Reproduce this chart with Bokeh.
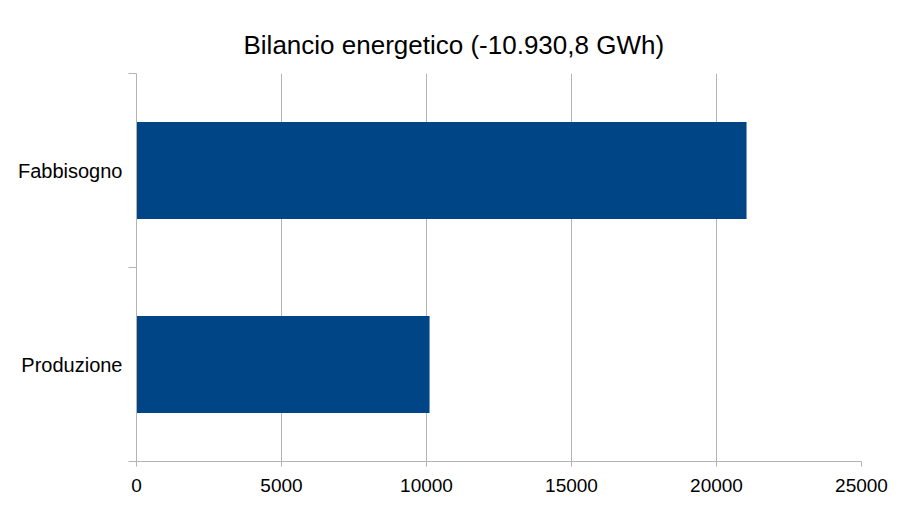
from bokeh.plotting import figure
from bokeh.resources import INLINE
from bokeh.embed import file_html
from bokeh.models import ColumnDataSource, Range1d, FixedTicker, Title

categories = ["Produzione", "Fabbisogno"]
values = [10105.0, 21035.8]
x_ticks = [0, 5000, 10000, 15000, 20000, 25000]

BLUE = "#004586"
GRAY = "#b3b3b3"
FONT = "Liberation Sans"

pos = [i + 0.5 for i in range(len(categories))]
source = ColumnDataSource(data=dict(y=pos, value=values, name=categories))

p = figure(width=891, height=494, output_backend="svg", toolbar_location=None,
           x_range=Range1d(0, 25000), y_range=Range1d(0, len(categories)),
           min_border_left=136, min_border_right=30, min_border_top=73,
           min_border_bottom=31)
p.outline_line_color = None
p.background_fill_color = "white"

p.hbar(y="y", right="value", left=0, height=0.5, source=source,
       fill_color=BLUE, line_color=None)

p.title = Title(text="Bilancio energetico (-10.930,8 GWh)", align="left",
                offset=107, text_font=FONT, text_font_size="26px",
                text_font_style="normal", text_color="black", standoff=28)

# x axis
p.xaxis.ticker = FixedTicker(ticks=x_ticks)
p.xaxis.axis_line_color = GRAY
p.xaxis.major_tick_line_color = GRAY
p.xaxis.major_tick_in = 0
p.xaxis.major_tick_out = 5
p.xaxis.minor_tick_line_color = None
p.xaxis.major_label_text_font = FONT
p.xaxis.major_label_text_font_size = "19px"
p.xaxis.major_label_text_color = "black"
p.xaxis.major_label_standoff = 12

# y axis: labels at category centres, ticks at category boundaries
p.yaxis.ticker = FixedTicker(ticks=pos, minor_ticks=list(range(len(categories) + 1)))
p.yaxis.major_label_overrides = {pv: c for pv, c in zip(pos, categories)}
p.yaxis.axis_line_color = GRAY
p.yaxis.major_tick_line_color = None
p.yaxis.major_tick_in = 0
p.yaxis.major_tick_out = 0
p.yaxis.minor_tick_line_color = GRAY
p.yaxis.minor_tick_in = 0
p.yaxis.minor_tick_out = 8
p.yaxis.major_label_text_font = FONT
p.yaxis.major_label_text_font_size = "20px"
p.yaxis.major_label_text_color = "black"
p.yaxis.major_label_standoff = 6

p.xgrid.grid_line_color = GRAY
p.xgrid.ticker = FixedTicker(ticks=x_ticks)
p.ygrid.grid_line_color = None

open("out.html", "w").write(file_html(p, INLINE))
